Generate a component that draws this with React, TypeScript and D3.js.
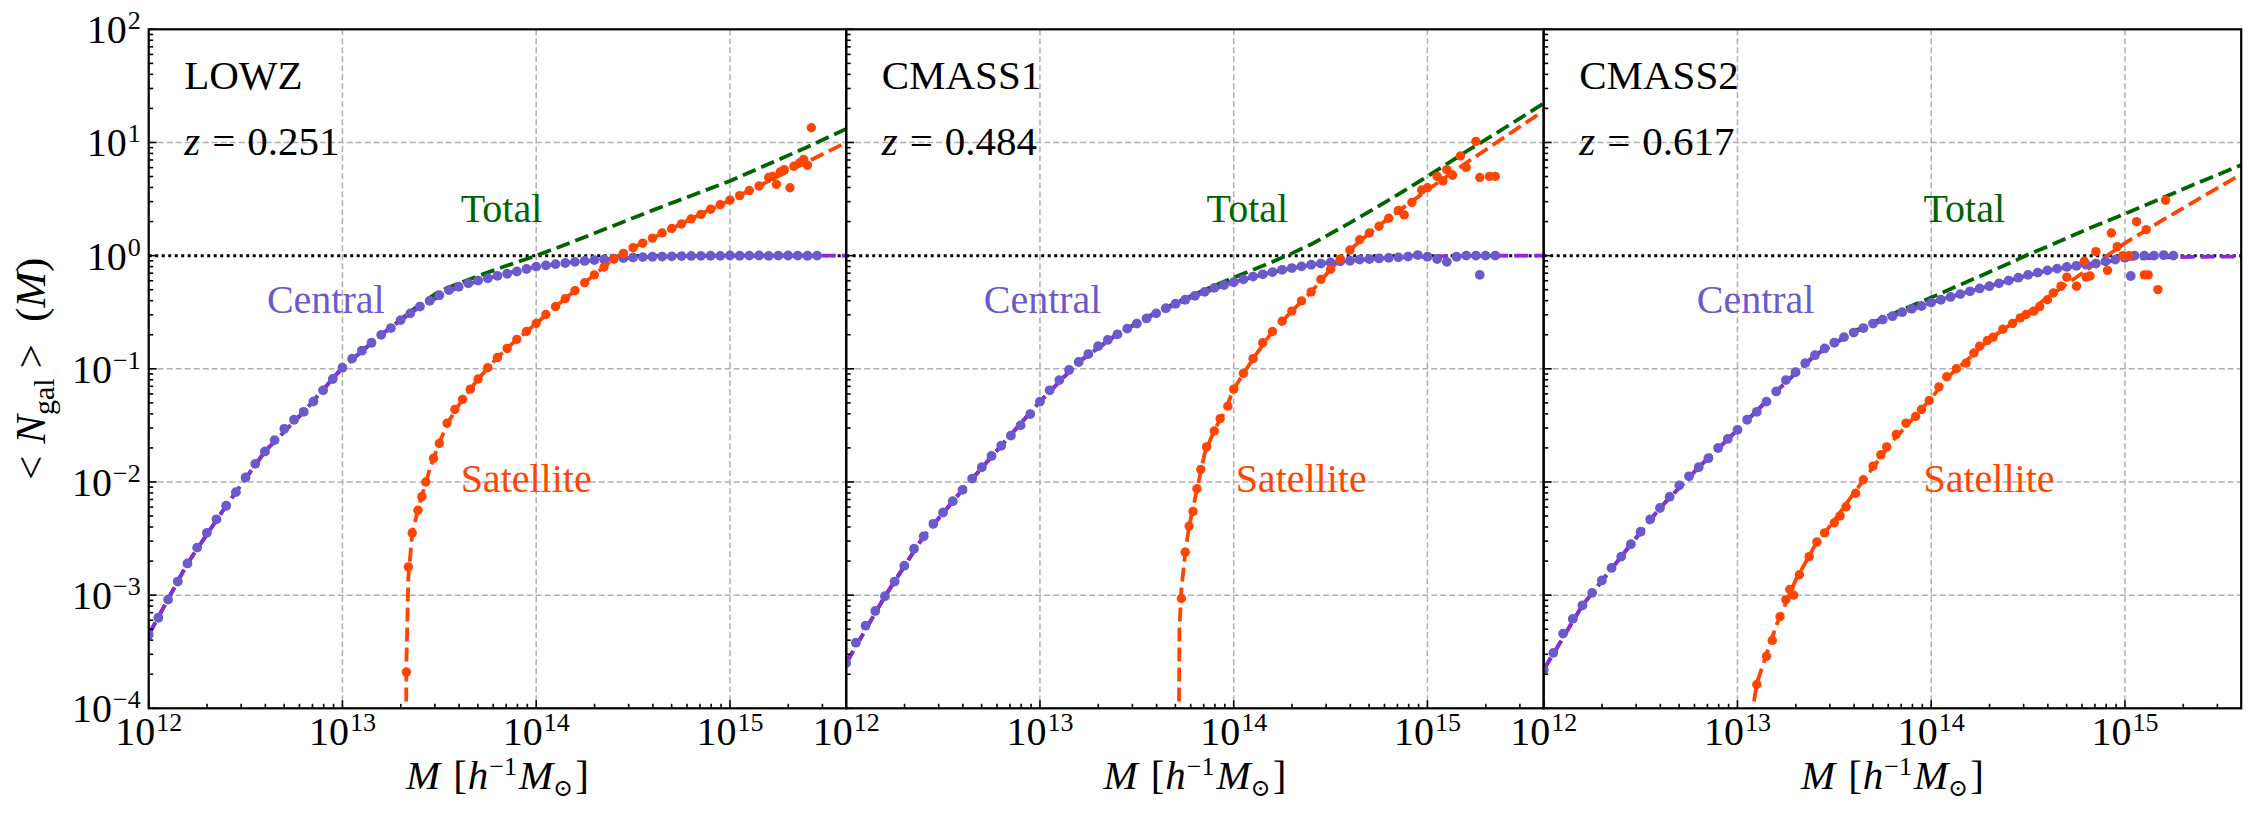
import { useEffect, useRef } from 'react';
import * as d3 from 'd3';

type Pt = [number, number];

// halo mass bins, log10(M / h^-1 Msun)
const massBins = [
  12.00, 12.05, 12.10, 12.15, 12.20, 12.25, 12.30, 12.35, 12.40, 12.45,
  12.50, 12.55, 12.60, 12.65, 12.70, 12.75, 12.80, 12.85, 12.90, 12.95,
  13.00, 13.05, 13.10, 13.15, 13.20, 13.25, 13.30, 13.35, 13.40, 13.45,
  13.50, 13.55, 13.60, 13.65, 13.70, 13.75, 13.80, 13.85, 13.90, 13.95,
  14.00, 14.05, 14.10, 14.15, 14.20, 14.25, 14.30, 14.35, 14.40, 14.45,
  14.50, 14.55, 14.60, 14.65, 14.70, 14.75, 14.80, 14.85, 14.90, 14.95,
  15.00, 15.05, 15.10, 15.15, 15.20, 15.25, 15.30, 15.35, 15.40, 15.45
];

// measured log10 <N_cen>, one per mass bin
const lowzCen = [
  -3.35, -3.20, -3.04, -2.88, -2.72, -2.58, -2.45, -2.33, -2.21, -2.09,
  -1.96, -1.84, -1.73, -1.63, -1.53, -1.45, -1.38, -1.29, -1.19, -1.09,
  -0.99, -0.91, -0.84, -0.77, -0.70, -0.64, -0.57, -0.51, -0.45, -0.40,
  -0.35, -0.305, -0.275, -0.245, -0.22, -0.20, -0.178, -0.16, -0.14, -0.118,
  -0.097, -0.086, -0.075, -0.065, -0.055, -0.047, -0.04, -0.033, -0.027, -0.022,
  -0.017, -0.013, -0.010, -0.008, -0.006, -0.004, -0.003, -0.002, -0.001, -0.002,
  0.001, -0.001, 0.0, 0.001, -0.002, 0.0, 0.001, 0.0, -0.001, 0.0
];
const cmass1Cen = [
  -3.60, -3.42, -3.27, -3.14, -3.01, -2.88, -2.74, -2.59, -2.48, -2.37,
  -2.27, -2.17, -2.07, -1.97, -1.87, -1.77, -1.68, -1.59, -1.50, -1.40,
  -1.29, -1.19, -1.10, -1.01, -0.94, -0.87, -0.80, -0.745, -0.695, -0.645,
  -0.60, -0.555, -0.51, -0.465, -0.425, -0.39, -0.355, -0.32, -0.285, -0.26,
  -0.235, -0.21, -0.185, -0.165, -0.145, -0.125, -0.11, -0.095, -0.08, -0.07,
  -0.06, -0.05, -0.045, -0.035, -0.03, -0.025, -0.02, -0.015, -0.008, 0.005,
  -0.01, -0.03, -0.055, -0.01, 0.0, 0.0, 0.0, 0.0
];
const cmass2Cen = [
  -3.66, -3.51, -3.34, -3.21, -3.09, -2.98, -2.87, -2.76, -2.66, -2.55,
  -2.44, -2.33, -2.23, -2.13, -2.03, -1.95, -1.87, -1.79, -1.70, -1.62,
  -1.54, -1.45, -1.38, -1.29, -1.20, -1.10, -1.03, -0.95, -0.88, -0.82,
  -0.77, -0.72, -0.68, -0.64, -0.60, -0.565, -0.535, -0.50, -0.47, -0.445,
  -0.415, -0.39, -0.365, -0.34, -0.315, -0.29, -0.27, -0.245, -0.22, -0.195,
  -0.17, -0.15, -0.13, -0.115, -0.10, -0.09, -0.08, -0.07, -0.05, -0.035,
  -0.02, 0.0, 0.0, 0.0, 0.005, 0.0
];
const lowzCenExtra: Pt[] = [];
const cmass1CenExtra: Pt[] = [[15.27, -0.17]];
const cmass2CenExtra: Pt[] = [[15.03, -0.18]];

// measured satellites, [log10 M, log10 <N_sat>]
const lowzSat: Pt[] = [
  [13.33, -3.68], [13.34, -2.75], [13.36, -2.45], [13.39, -2.25], [13.41, -2.13], [13.43, -2.00],
  [13.47, -1.79], [13.50, -1.66], [13.54, -1.48], [13.58, -1.36], [13.62, -1.27], [13.66, -1.18],
  [13.70, -1.09], [13.75, -0.99], [13.80, -0.90], [13.85, -0.82], [13.90, -0.74], [13.95, -0.67],
  [14.00, -0.60], [14.05, -0.52], [14.10, -0.45], [14.15, -0.38], [14.20, -0.31], [14.25, -0.24],
  [14.30, -0.17], [14.35, -0.10], [14.40, -0.03], [14.45, 0.02], [14.50, 0.07], [14.55, 0.11],
  [14.60, 0.155], [14.65, 0.20], [14.70, 0.24], [14.75, 0.28], [14.80, 0.325], [14.85, 0.365],
  [14.90, 0.41], [14.95, 0.45], [15.00, 0.49], [15.05, 0.53], [15.10, 0.575], [15.15, 0.615],
  [15.20, 0.69], [15.22, 0.70], [15.24, 0.63], [15.26, 0.74], [15.28, 0.76], [15.31, 0.60],
  [15.33, 0.79], [15.36, 0.82], [15.38, 0.85], [15.40, 0.80], [15.42, 1.13]
];
const cmass1Sat: Pt[] = [
  [13.73, -3.03], [13.75, -2.62], [13.77, -2.39], [13.79, -2.26], [13.81, -2.06], [13.83, -1.89],
  [13.86, -1.69], [13.90, -1.55], [13.93, -1.44], [13.97, -1.33], [14.00, -1.18], [14.05, -1.04],
  [14.10, -0.91], [14.15, -0.77], [14.20, -0.67], [14.25, -0.58], [14.30, -0.49], [14.35, -0.40],
  [14.40, -0.32], [14.45, -0.21], [14.50, -0.12], [14.55, -0.03], [14.60, 0.05], [14.65, 0.14],
  [14.70, 0.20], [14.75, 0.26], [14.80, 0.33], [14.85, 0.40], [14.88, 0.36], [14.92, 0.47],
  [14.97, 0.58], [15.00, 0.60], [15.05, 0.70], [15.08, 0.66], [15.10, 0.76], [15.13, 0.71],
  [15.17, 0.88], [15.20, 0.78], [15.25, 1.01], [15.27, 0.69], [15.32, 0.70], [15.35, 0.70]
];
const cmass2Sat: Pt[] = [
  [13.10, -3.79], [13.15, -3.54], [13.18, -3.40], [13.22, -3.19], [13.25, -3.04], [13.27, -2.95],
  [13.29, -3.00], [13.32, -2.82], [13.37, -2.66], [13.41, -2.53], [13.45, -2.45], [13.50, -2.36],
  [13.53, -2.30], [13.56, -2.22], [13.61, -2.10], [13.65, -1.98], [13.70, -1.86], [13.74, -1.76],
  [13.77, -1.69], [13.82, -1.58], [13.87, -1.48], [13.92, -1.42], [13.95, -1.36], [13.99, -1.28],
  [14.04, -1.16], [14.08, -1.07], [14.13, -1.00], [14.18, -0.95], [14.22, -0.86], [14.25, -0.80],
  [14.29, -0.75], [14.32, -0.72], [14.37, -0.65], [14.42, -0.60], [14.46, -0.55], [14.49, -0.52],
  [14.53, -0.49], [14.56, -0.45], [14.60, -0.39], [14.63, -0.33], [14.67, -0.27], [14.70, -0.19],
  [14.75, -0.27], [14.79, -0.05], [14.80, -0.19], [14.82, -0.18], [14.85, 0.035], [14.91, -0.13],
  [14.93, 0.20], [14.96, 0.08], [14.99, 0.00], [15.02, 0.00], [15.06, 0.30], [15.10, -0.17],
  [15.11, 0.23], [15.12, -0.17], [15.17, -0.30], [15.21, 0.49]
];

// HOD model curves, [log10 M, log10 N]
const lowzCenModel: Pt[] = [
  [12.0, -3.35], [12.2, -2.72], [12.4, -2.21], [12.6, -1.73], [12.8, -1.38], [13.0, -0.99],
  [13.2, -0.70], [13.4, -0.45], [13.6, -0.275], [13.8, -0.178], [14.0, -0.097], [14.2, -0.055],
  [14.4, -0.027], [14.6, -0.01], [14.8, -0.003], [15.0, 0], [15.2, 0], [15.4, 0], [15.6, 0]
];
const cmass1CenModel: Pt[] = [
  [12.0, -3.60], [12.2, -3.01], [12.4, -2.48], [12.6, -2.07], [12.8, -1.68], [13.0, -1.29],
  [13.2, -0.94], [13.4, -0.695], [13.6, -0.51], [13.8, -0.355], [14.0, -0.235], [14.2, -0.145],
  [14.4, -0.08], [14.6, -0.045], [14.8, -0.02], [15.0, -0.008], [15.2, -0.003], [15.4, 0], [15.6, 0]
];
const cmass2CenModel: Pt[] = [
  [12.0, -3.66], [12.2, -3.09], [12.4, -2.66], [12.6, -2.23], [12.8, -1.87], [13.0, -1.54],
  [13.2, -1.20], [13.4, -0.88], [13.6, -0.68], [13.8, -0.535], [14.0, -0.415], [14.2, -0.315],
  [14.4, -0.22], [14.6, -0.13], [14.8, -0.08], [15.0, -0.03], [15.2, -0.015], [15.4, -0.01], [15.6, -0.008]
];
const lowzSatModel: Pt[] = [
  [13.326, -5], [13.33, -3.6], [13.34, -2.85], [13.36, -2.45], [13.40, -2.18], [13.45, -1.89],
  [13.50, -1.65], [13.55, -1.46], [13.60, -1.32], [13.70, -1.09], [13.80, -0.90], [13.90, -0.74],
  [14.00, -0.60], [14.10, -0.45], [14.20, -0.31], [14.30, -0.17], [14.40, -0.03], [14.50, 0.07],
  [14.60, 0.155], [14.80, 0.325], [15.00, 0.49], [15.20, 0.66], [15.40, 0.83], [15.60, 1.00]
];
const cmass1SatModel: Pt[] = [
  [13.714, -5], [13.72, -3.3], [13.73, -2.95], [13.75, -2.63], [13.77, -2.39], [13.80, -2.15],
  [13.85, -1.75], [13.90, -1.54], [13.95, -1.39], [14.00, -1.18], [14.10, -0.91], [14.20, -0.67],
  [14.30, -0.49], [14.40, -0.32], [14.50, -0.12], [14.60, 0.05], [14.70, 0.20], [14.80, 0.33],
  [15.00, 0.58], [15.20, 0.82], [15.40, 1.05], [15.60, 1.28]
];
const cmass2SatModel: Pt[] = [
  [13.07, -5], [13.08, -4.0], [13.10, -3.78], [13.15, -3.52], [13.20, -3.27], [13.30, -2.87],
  [13.40, -2.56], [13.50, -2.34], [13.60, -2.10], [13.70, -1.87], [13.80, -1.64], [13.90, -1.45],
  [14.00, -1.26], [14.10, -1.05], [14.20, -0.90], [14.30, -0.74], [14.40, -0.62], [14.50, -0.50],
  [14.60, -0.37], [14.70, -0.25], [14.80, -0.13], [14.90, -0.01], [15.00, 0.11], [15.20, 0.32],
  [15.40, 0.52], [15.60, 0.72]
];
const lowzTotModel: Pt[] = [
  [12.0, -3.35], [12.2, -2.72], [12.4, -2.21], [12.6, -1.73], [12.8, -1.38], [13.0, -0.99],
  [13.2, -0.70], [13.4, -0.43], [13.5, -0.315], [13.6, -0.245], [13.7, -0.18], [13.8, -0.118],
  [13.9, -0.058], [14.0, 0.0], [14.2, 0.13], [14.4, 0.265], [14.6, 0.40], [14.8, 0.53],
  [15.0, 0.66], [15.2, 0.81], [15.4, 0.96], [15.6, 1.12]
];
const cmass1TotModel: Pt[] = [
  [12.0, -3.60], [12.2, -3.01], [12.4, -2.48], [12.6, -2.07], [12.8, -1.68], [13.0, -1.29],
  [13.2, -0.94], [13.4, -0.69], [13.6, -0.50], [13.8, -0.34], [13.9, -0.265], [14.0, -0.195],
  [14.1, -0.125], [14.2, -0.055], [14.3, 0.02], [14.4, 0.10], [14.6, 0.29], [14.8, 0.49],
  [15.0, 0.70], [15.2, 0.92], [15.4, 1.13], [15.6, 1.346]
];
const cmass2TotModel: Pt[] = [
  [12.0, -3.66], [12.2, -3.09], [12.4, -2.66], [12.6, -2.23], [12.8, -1.87], [13.0, -1.54],
  [13.2, -1.20], [13.4, -0.88], [13.6, -0.67], [13.7, -0.59], [13.8, -0.515], [14.0, -0.37],
  [14.2, -0.22], [14.4, -0.07], [14.5, 0.01], [14.6, 0.08], [14.8, 0.23], [15.0, 0.37],
  [15.2, 0.515], [15.4, 0.66], [15.6, 0.80]
];

const samples = ['LOWZ', 'CMASS1', 'CMASS2'];
const redshifts = ['0.251', '0.484', '0.617'];

// where the curve names sit: [log10 M, N]
const totalLabelAt: Pt[] = [[13.61, 2], [13.86, 2], [13.96, 2]];
const centralLabelAt: Pt[] = [[12.61, 0.31], [12.71, 0.31], [12.79, 0.31]];
const satelliteLabelAt: Pt[] = [[13.61, 0.0082], [14.01, 0.0082], [13.96, 0.0082]];

const W = 2256;
const H = 821;
const left = 148.7;
const top = 29.3;
const bottom = 708.3;
const panelW = 697.5;
const SERIF = 'Liberation Serif, Times New Roman, serif';

const CEN = '#6a5acd';
const SAT = '#ff4500';
const TOT = '#006400';
const CEN_MODEL = '#8a2be2';

type TextSel = d3.Selection<SVGTextElement, unknown, null, undefined>;

export default function App() {
  const svgRef = useRef<SVGSVGElement>(null);

  useEffect(() => {
    const svg = d3.select(svgRef.current);
    svg.selectAll('*').remove();
    svg.attr('width', W).attr('height', H);

    const y = d3.scaleLog().domain([1e-4, 1e2]).range([bottom, top]);
    const isMajor = (v: number) => Math.abs(Math.log10(v) - Math.round(Math.log10(v))) < 1e-6;

    const panels = [
      { cen: lowzCen, cenExtra: lowzCenExtra, sat: lowzSat, cenModel: lowzCenModel, satModel: lowzSatModel, totModel: lowzTotModel },
      { cen: cmass1Cen, cenExtra: cmass1CenExtra, sat: cmass1Sat, cenModel: cmass1CenModel, satModel: cmass1SatModel, totModel: cmass1TotModel },
      { cen: cmass2Cen, cenExtra: cmass2CenExtra, sat: cmass2Sat, cenModel: cmass2CenModel, satModel: cmass2SatModel, totModel: cmass2TotModel }
    ];

    const defs = svg.append('defs');

    const addText = (parent: any, size: number): TextSel =>
      parent.append('text')
        .attr('font-family', SERIF)
        .attr('font-size', size)
        .attr('fill', '#000');

    const powLabel = (t: TextSel, exp: number) => {
      t.append('tspan').text('10');
      t.append('tspan')
        .attr('dy', -14)
        .attr('dx', 1)
        .attr('font-size', 26)
        .text(exp < 0 ? `\u2212${-exp}` : `${exp}`);
    };

    panels.forEach((p, i) => {
      const x0 = left + i * panelW;
      const x = d3.scaleLog().domain([1e12, 10 ** 15.6]).range([x0, x0 + panelW]);
      const g = svg.append('g');

      defs.append('clipPath')
        .attr('id', `clip-${i}`)
        .append('rect')
        .attr('x', x0)
        .attr('y', top)
        .attr('width', panelW)
        .attr('height', bottom - top);

      const plot = g.append('g').attr('clip-path', `url(#clip-${i})`);

      // grid
      const xMajor = x.ticks().filter(isMajor);
      const yMajor = y.ticks().filter(isMajor);
      plot.selectAll('.gx')
        .data(xMajor)
        .join('line')
        .attr('x1', d => x(d)).attr('x2', d => x(d))
        .attr('y1', top).attr('y2', bottom)
        .attr('stroke', '#b0b0b0')
        .attr('stroke-width', 1.5)
        .attr('stroke-dasharray', '6 3');
      plot.selectAll('.gy')
        .data(yMajor.filter(d => d !== 1))
        .join('line')
        .attr('x1', x0).attr('x2', x0 + panelW)
        .attr('y1', d => y(d)).attr('y2', d => y(d))
        .attr('stroke', '#b0b0b0')
        .attr('stroke-width', 1.5)
        .attr('stroke-dasharray', '6 3');

      // N = 1 reference
      plot.append('line')
        .attr('x1', x0).attr('x2', x0 + panelW)
        .attr('y1', y(1)).attr('y2', y(1))
        .attr('stroke', '#000')
        .attr('stroke-width', 3)
        .attr('stroke-dasharray', '3 3.5');

      const line = d3.line<Pt>()
        .x(d => x(10 ** d[0]))
        .y(d => y(10 ** d[1]));

      const model = (data: Pt[], color: string) =>
        plot.append('path')
          .attr('d', line(data))
          .attr('fill', 'none')
          .attr('stroke', color)
          .attr('stroke-width', 3.8)
          .attr('stroke-dasharray', '14 6');

      model(p.totModel, TOT);
      model(p.satModel, SAT);
      model(p.cenModel, CEN_MODEL);

      const cenPts: Pt[] = p.cen.map((v, k) => [massBins[k], v] as Pt).concat(p.cenExtra);
      plot.selectAll('.cen')
        .data(cenPts)
        .join('circle')
        .attr('cx', d => x(10 ** d[0]))
        .attr('cy', d => y(10 ** d[1]))
        .attr('r', 4.9)
        .attr('fill', CEN);

      plot.selectAll('.sat')
        .data(p.sat)
        .join('circle')
        .attr('cx', d => x(10 ** d[0]))
        .attr('cy', d => y(10 ** d[1]))
        .attr('r', 4.7)
        .attr('fill', SAT);

      // frame
      g.append('rect')
        .attr('x', x0).attr('y', top)
        .attr('width', panelW).attr('height', bottom - top)
        .attr('fill', 'none')
        .attr('stroke', '#000')
        .attr('stroke-width', 2.2);

      // ticks, pointing in
      g.selectAll('.tx')
        .data(x.ticks())
        .join('line')
        .attr('x1', d => x(d)).attr('x2', d => x(d))
        .attr('y1', bottom).attr('y2', d => bottom - (isMajor(d) ? 8 : 4.5))
        .attr('stroke', '#000')
        .attr('stroke-width', 1.6);
      g.selectAll('.ty')
        .data(y.ticks())
        .join('line')
        .attr('x1', x0).attr('x2', d => x0 + (isMajor(d) ? 8 : 4.5))
        .attr('y1', d => y(d)).attr('y2', d => y(d))
        .attr('stroke', '#000')
        .attr('stroke-width', 1.6);

      // x tick labels
      xMajor.forEach(v => {
        const t = addText(g, 40)
          .attr('x', x(v))
          .attr('y', bottom + 37)
          .attr('text-anchor', 'middle');
        powLabel(t, Math.round(Math.log10(v)));
      });

      // y tick labels only on the first panel
      if (i === 0) {
        yMajor.forEach(v => {
          const t = addText(g, 40)
            .attr('x', x0 - 8)
            .attr('y', y(v) + 14)
            .attr('text-anchor', 'end');
          powLabel(t, Math.round(Math.log10(v)));
        });
      }

      // x axis label
      const xl = addText(g, 41)
        .attr('x', x0 + panelW / 2)
        .attr('y', 789)
        .attr('text-anchor', 'middle');
      xl.append('tspan').attr('font-style', 'italic').text('M');
      xl.append('tspan').attr('dx', 13).text('[');
      xl.append('tspan').attr('dx', 1).attr('font-style', 'italic').text('h');
      xl.append('tspan').attr('dy', -14).attr('dx', 1).attr('font-size', 26).text('\u22121');
      xl.append('tspan').attr('dy', 14).attr('dx', 2).attr('font-style', 'italic').text('M');
      xl.append('tspan').attr('dy', 7).attr('font-size', 24).attr('font-family', 'DejaVu Serif, serif').text('\u2299');
      xl.append('tspan').attr('dy', -7).attr('dx', 2).text(']');

      // sample name and redshift
      addText(g, 41)
        .attr('x', x0 + 35.5)
        .attr('y', 89)
        .text(samples[i]);
      const zt = addText(g, 41)
        .attr('x', x0 + 35.5)
        .attr('y', 154.5);
      zt.append('tspan').attr('font-style', 'italic').text('z');
      zt.append('tspan').attr('dx', 12).text('=');
      zt.append('tspan').attr('dx', 12).text(redshifts[i]);

      // curve names
      const tag = (at: Pt, label: string, color: string) =>
        addText(g, 40)
          .attr('x', x(10 ** at[0]))
          .attr('y', y(at[1]))
          .attr('fill', color)
          .text(label);
      tag(totalLabelAt[i], 'Total', TOT);
      tag(centralLabelAt[i], 'Central', CEN);
      tag(satelliteLabelAt[i], 'Satellite', SAT);
    });

    // y axis label
    const yl = addText(svg, 43)
      .attr('transform', `translate(45,${(top + bottom) / 2}) rotate(-90)`)
      .attr('text-anchor', 'middle');
    yl.append('tspan').text('<');
    yl.append('tspan').attr('dx', 12).attr('font-style', 'italic').text('N');
    yl.append('tspan').attr('dy', 9).attr('font-size', 30).text('gal');
    yl.append('tspan').attr('dy', -9).attr('dx', 10).text('>');
    yl.append('tspan').attr('dx', 22).text('(');
    yl.append('tspan').attr('font-style', 'italic').text('M');
    yl.append('tspan').text(')');
  }, []);

  return <svg ref={svgRef} style={{ position: 'absolute', left: 0, top: 0, background: '#fff' }}></svg>;
}
